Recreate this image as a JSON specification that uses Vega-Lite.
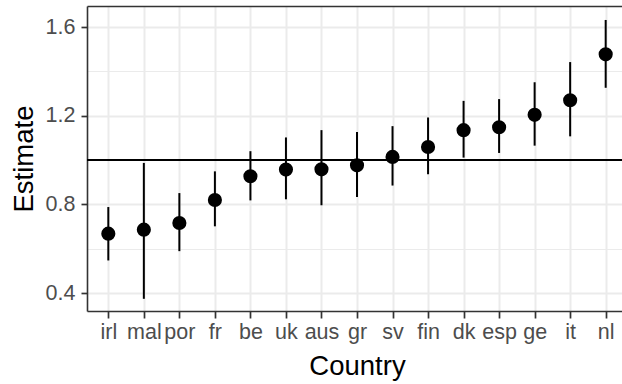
{
  "$schema": "https://vega.github.io/schema/vega-lite/v6.json",
  "width": 535,
  "height": 305,
  "autosize": "none",
  "padding": {"left": 87, "top": 6, "right": 0, "bottom": 73},
  "background": "white",
  "config": {
    "view": {"stroke": null},
    "font": "Liberation Sans",
    "axis": {
      "labelFont": "Liberation Sans",
      "titleFont": "Liberation Sans",
      "titleFontWeight": "normal",
      "labelColor": "#4D4D4D",
      "titleColor": "black",
      "domainColor": "#333333",
      "tickColor": "#333333",
      "gridColor": "#EBEBEB"
    }
  },
  "data": {
    "values": [
      {"country": "irl", "est": 0.668, "lo": 0.547, "hi": 0.788},
      {"country": "mal", "est": 0.686, "lo": 0.374, "hi": 0.987},
      {"country": "por", "est": 0.716, "lo": 0.589, "hi": 0.851},
      {"country": "fr", "est": 0.820, "lo": 0.701, "hi": 0.949},
      {"country": "be", "est": 0.927, "lo": 0.818, "hi": 1.040},
      {"country": "uk", "est": 0.957, "lo": 0.823, "hi": 1.102},
      {"country": "aus", "est": 0.958, "lo": 0.796, "hi": 1.135},
      {"country": "gr", "est": 0.976, "lo": 0.833, "hi": 1.126},
      {"country": "sv", "est": 1.014, "lo": 0.885, "hi": 1.153},
      {"country": "fin", "est": 1.059, "lo": 0.936, "hi": 1.192},
      {"country": "dk", "est": 1.135, "lo": 1.011, "hi": 1.267},
      {"country": "esp", "est": 1.148, "lo": 1.032, "hi": 1.275},
      {"country": "ge", "est": 1.204, "lo": 1.065, "hi": 1.351},
      {"country": "it", "est": 1.270, "lo": 1.107, "hi": 1.442},
      {"country": "nl", "est": 1.477, "lo": 1.326, "hi": 1.632}
    ]
  },
  "layer": [
    {
      "mark": {"type": "rule", "color": "black", "strokeWidth": 2},
      "encoding": {
        "y": {
          "datum": 1,
          "type": "quantitative",
          "scale": {"domain": [0.319, 1.695], "nice": false, "zero": false},
          "axis": {
            "orient": "right",
            "title": null,
            "values": [0.6, 1.0, 1.4],
            "labels": false,
            "ticks": false,
            "domain": false,
            "grid": true,
            "gridWidth": 1
          }
        }
      }
    },
    {
      "mark": {"type": "rule", "color": "black", "strokeWidth": 2},
      "encoding": {
        "x": {
          "field": "country",
          "type": "nominal",
          "sort": null,
          "scale": {"type": "point", "range": [0, 540], "padding": 0.6},
          "axis": {
            "orient": "top",
            "title": null,
            "labels": false,
            "ticks": false,
            "grid": false,
            "domain": true,
            "domainWidth": 1.6
          }
        },
        "y": {
          "field": "lo",
          "type": "quantitative",
          "scale": {"domain": [0.319, 1.695], "nice": false, "zero": false},
          "axis": null
        },
        "y2": {"field": "hi"}
      }
    },
    {
      "mark": {"type": "point", "filled": true, "color": "black", "opacity": 1, "size": 200, "shape": "circle"},
      "encoding": {
        "x": {
          "field": "country",
          "type": "nominal",
          "sort": null,
          "scale": {"type": "point", "range": [0, 540], "padding": 0.6},
          "axis": {
            "orient": "bottom",
            "title": "Country",
            "titleFontSize": 27.5,
            "titlePadding": 10,
            "labelFontSize": 21.5,
            "labelPadding": 3,
            "labelAngle": 0,
            "tickSize": 7,
            "tickWidth": 1.7,
            "grid": true,
            "gridWidth": 2,
            "domain": true,
            "domainWidth": 1.6
          }
        },
        "y": {
          "field": "est",
          "type": "quantitative",
          "scale": {"domain": [0.319, 1.695], "nice": false, "zero": false},
          "axis": {
            "orient": "left",
            "title": "Estimate",
            "titleFontSize": 27.5,
            "titlePadding": 7,
            "labelFontSize": 21.5,
            "labelPadding": 6,
            "values": [0.4, 0.8, 1.2, 1.6],
            "format": ".1f",
            "tickSize": 6,
            "tickWidth": 1.7,
            "grid": true,
            "gridWidth": 2,
            "domain": true,
            "domainWidth": 1.6
          }
        }
      }
    }
  ],
  "resolve": {"axis": {"x": "independent", "y": "independent"}}
}
